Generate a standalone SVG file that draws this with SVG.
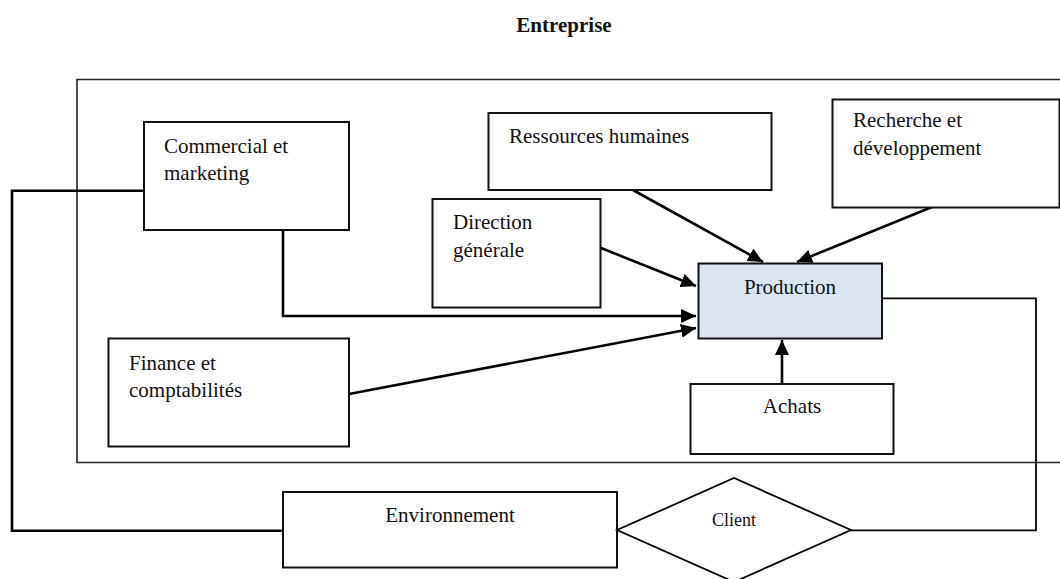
<svg xmlns="http://www.w3.org/2000/svg" width="1060" height="579" viewBox="0 0 1060 579">
  <style>
    .box { fill: #ffffff; stroke: #111111; stroke-width: 2; }
    .prod { fill: #dbe5f1; stroke: #111111; stroke-width: 2; }
    .frame { fill: none; stroke: #222222; stroke-width: 1.6; }
    .lbl { font-family: "Liberation Serif", "Times New Roman", serif; font-size: 21px; fill: #111111; }
    .mid { text-anchor: middle; }
    .title { font-family: "Liberation Serif", "Times New Roman", serif; font-size: 21px; font-weight: bold; fill: #111111; text-anchor: middle; }
    .small { font-family: "Liberation Serif", "Times New Roman", serif; font-size: 18px; fill: #111111; text-anchor: middle; }
    .link { fill: none; stroke: #000000; stroke-width: 2.6; }
    .thin { fill: none; stroke: #000000; stroke-width: 1.8; }
  </style>
  <defs>
    <marker id="arrow" markerUnits="userSpaceOnUse" markerWidth="16" markerHeight="14" refX="15" refY="7" orient="auto">
      <path d="M0,0 L15,7 L0,14 Z" fill="#000000"/>
    </marker>
  </defs>

  <rect width="1060" height="579" fill="#ffffff"/>

  <text class="title" x="564" y="32">Entreprise</text>

  <!-- enterprise boundary, open on the right -->
  <path class="frame" d="M1062,79.5 H77 V462.5 H1062"/>

  <g id="connectors">
    <path class="link" d="M144,190.7 H12 V530.7 H283"/>
    <path class="link" d="M283,230 V316 H696" marker-end="url(#arrow)"/>
    <path class="link" d="M601,248 L696,286" marker-end="url(#arrow)"/>
    <path class="link" d="M349,394 L696,328" marker-end="url(#arrow)"/>
    <path class="link" d="M633,190 L763,262" marker-end="url(#arrow)"/>
    <path class="link" d="M932,207 L797,262" marker-end="url(#arrow)"/>
    <path class="link" d="M782,384 V340" marker-end="url(#arrow)"/>
    <path class="thin" d="M882,298.3 H1036 V530.3 H851"/>
  </g>

  <g id="commercial">
    <rect class="box" x="144" y="122" width="205" height="108"/>
    <text class="lbl" x="164" y="153">Commercial et</text>
    <text class="lbl" x="164" y="180">marketing</text>
  </g>

  <g id="ressources-humaines">
    <rect class="box" x="488.5" y="113" width="283" height="77"/>
    <text class="lbl" x="509" y="143">Ressources humaines</text>
  </g>

  <g id="recherche">
    <rect class="box" x="832.5" y="99.5" width="227" height="108"/>
    <text class="lbl" x="853" y="127">Recherche et</text>
    <text class="lbl" x="853" y="155">développement</text>
  </g>

  <g id="direction">
    <rect class="box" x="432.5" y="199" width="168" height="108.5"/>
    <text class="lbl" x="453" y="229">Direction</text>
    <text class="lbl" x="453" y="257">générale</text>
  </g>

  <g id="production">
    <rect class="prod" x="698.5" y="263.5" width="183.5" height="75"/>
    <text class="lbl mid" x="790" y="294">Production</text>
  </g>

  <g id="finance">
    <rect class="box" x="108.5" y="338.5" width="240.5" height="108"/>
    <text class="lbl" x="129" y="370">Finance et</text>
    <text class="lbl" x="129" y="397">comptabilités</text>
  </g>

  <g id="achats">
    <rect class="box" x="690.5" y="384" width="203" height="70"/>
    <text class="lbl mid" x="792" y="413">Achats</text>
  </g>

  <g id="environnement">
    <rect class="box" x="283" y="492" width="334" height="75.5"/>
    <text class="lbl mid" x="450" y="522">Environnement</text>
  </g>

  <g id="client">
    <polygon class="thin" fill="#ffffff" points="617,530 734,478 851,530 734,582" style="fill:#ffffff"/>
    <text class="small" x="734" y="526">Client</text>
  </g>
</svg>
